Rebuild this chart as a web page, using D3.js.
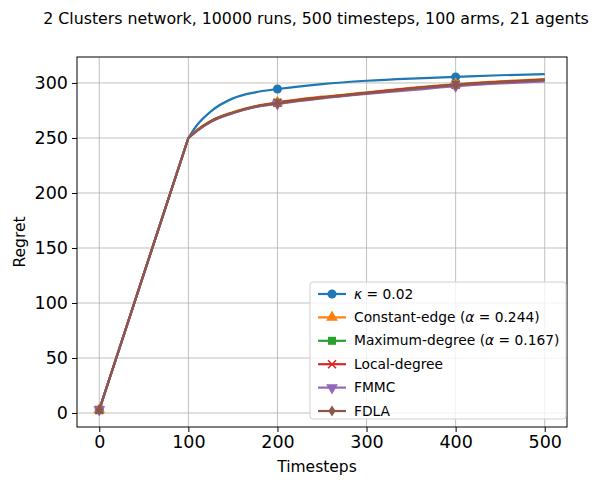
<!DOCTYPE html>
<html>
  <head>
    <meta charset="utf-8">
    <script src="https://d3js.org/d3.v7.min.js"></script>
    <style>
      body { margin: 0; background: #fff; }
      text { font-family: "DejaVu Sans", sans-serif; }
    </style>
  </head>
  <body>
    <script>
      var steps = [0, 100, 110, 125, 150, 175, 200, 250, 300, 350, 400, 450, 500];
      var markerSteps = [0, 200, 400];
      var kappa    = [3, 250, 262, 274, 286, 291.5, 294.5, 299, 302, 304, 305.5, 307, 308];
      var constEdge = [3, 250, 257.5, 265.5, 273.5, 279, 282.5, 287.5, 291.5, 295.5, 299, 301.5, 303.5];
      var maxDegree = [2.5, 250, 257, 265, 273, 278.5, 282, 287, 291, 295, 298.5, 301, 303];
      var localDeg  = [3, 250, 257, 265, 273, 278.5, 282, 287, 291, 295, 298.5, 301, 303];
      var fmmc      = [3, 250, 256.5, 264.5, 272.5, 278, 281, 286, 290, 293.5, 297, 299.5, 301.5];
      var fdla      = [3, 250, 257, 265, 273, 278.5, 281.5, 286.5, 290.5, 294.5, 298, 300.5, 302.5];

      var series = [
        { label: [["κ", true], [" = 0.02", false]], values: kappa, color: "#1f77b4", marker: "circle" },
        { label: [["Constant-edge (", false], ["α", true], [" = 0.244)", false]], values: constEdge, color: "#ff7f0e", marker: "triangle" },
        { label: [["Maximum-degree (", false], ["α", true], [" = 0.167)", false]], values: maxDegree, color: "#2ca02c", marker: "square" },
        { label: [["Local-degree", false]], values: localDeg, color: "#d62728", marker: "x" },
        { label: [["FMMC", false]], values: fmmc, color: "#9467bd", marker: "tridown" },
        { label: [["FDLA", false]], values: fdla, color: "#8c564b", marker: "diamond" }
      ];

      var W = 614, H = 485;
      var m = { left: 77, right: 567, top: 57, bottom: 427 };

      var svg = d3.select("body").append("svg").attr("width", W).attr("height", H);

      var x = d3.scaleLinear().domain([-25, 525]).range([m.left, m.right]);
      var y = d3.scaleLinear().domain([-12.7, 323.6]).range([m.bottom, m.top]);

      var xTicks = [0, 100, 200, 300, 400, 500];
      var yTicks = [0, 50, 100, 150, 200, 250, 300];

      // grid
      svg.append("g").selectAll("line").data(xTicks).enter().append("line")
        .attr("x1", d => x(d)).attr("x2", d => x(d))
        .attr("y1", m.top).attr("y2", m.bottom)
        .attr("stroke", "#b0b0b0").attr("stroke-width", 0.8);
      svg.append("g").selectAll("line").data(yTicks).enter().append("line")
        .attr("y1", d => y(d)).attr("y2", d => y(d))
        .attr("x1", m.left).attr("x2", m.right)
        .attr("stroke", "#b0b0b0").attr("stroke-width", 0.8);

      var xAxis = svg.append("g").attr("transform", "translate(0," + m.bottom + ")")
        .call(d3.axisBottom(x).tickValues(xTicks).tickSize(5).tickPadding(4));
      var yAxis = svg.append("g").attr("transform", "translate(" + m.left + ",0)")
        .call(d3.axisLeft(y).tickValues(yTicks).tickSize(5).tickPadding(4));
      [xAxis, yAxis].forEach(function (a) {
        a.select(".domain").remove();
        a.selectAll("text").attr("font-size", 17.5).attr("fill", "#000")
          .style("font-family", "DejaVu Sans");
        a.selectAll("line").attr("stroke", "#000");
      });

      svg.append("rect").attr("x", m.left).attr("y", m.top)
        .attr("width", m.right - m.left).attr("height", m.bottom - m.top)
        .attr("fill", "none").attr("stroke", "#000").attr("stroke-width", 1);

      // straight ramp up to t=100, smooth curve after it
      var curve = d3.line().x((d, i) => x(steps[i + 1])).y(d => y(d)).curve(d3.curveMonotoneX);
      function pathFor(vals) {
        return "M" + x(steps[0]) + "," + y(vals[0]) + "L" + curve(vals.slice(1)).slice(1);
      }

      function drawMarker(g, type, cx, cy, color) {
        if (type === "circle") {
          g.append("circle").attr("cx", cx).attr("cy", cy).attr("r", 4.5).attr("fill", color);
        } else if (type === "square") {
          g.append("rect").attr("x", cx - 4).attr("y", cy - 4).attr("width", 8).attr("height", 8).attr("fill", color);
        } else if (type === "triangle") {
          g.append("path").attr("d", d3.symbol(d3.symbolTriangle, 60)()).attr("transform", "translate(" + cx + "," + cy + ")").attr("fill", color);
        } else if (type === "tridown") {
          g.append("path").attr("d", d3.symbol(d3.symbolTriangle, 60)()).attr("transform", "translate(" + cx + "," + cy + ") rotate(180)").attr("fill", color);
        } else if (type === "diamond") {
          g.append("path").attr("d", "M0,-5.5L3.6,0L0,5.5L-3.6,0Z").attr("transform", "translate(" + cx + "," + cy + ")").attr("fill", color);
        } else if (type === "x") {
          g.append("path").attr("d", "M-4,-4L4,4M-4,4L4,-4").attr("transform", "translate(" + cx + "," + cy + ")")
            .attr("stroke", color).attr("stroke-width", 1.6);
        }
      }

      series.forEach(function (s) {
        var g = svg.append("g");
        g.append("path").attr("d", pathFor(s.values))
          .attr("fill", "none").attr("stroke", s.color).attr("stroke-width", 2.2)
          .attr("stroke-linejoin", "round");
        markerSteps.forEach(function (t) {
          var i = steps.indexOf(t);
          drawMarker(g, s.marker, x(t), y(s.values[i]), s.color);
        });
      });

      // legend
      var lg = svg.append("g");
      lg.append("rect").attr("x", 310).attr("y", 282).attr("width", 256).attr("height", 137)
        .attr("rx", 3).attr("fill", "#fff").attr("fill-opacity", 0.8)
        .attr("stroke", "#d0d0d0");
      series.forEach(function (s, i) {
        var yy = 294 + i * 23.4;
        lg.append("line").attr("x1", 318).attr("x2", 346).attr("y1", yy).attr("y2", yy)
          .attr("stroke", s.color).attr("stroke-width", 2.2);
        drawMarker(lg, s.marker, 332, yy, s.color);
        var t = lg.append("text").attr("x", 354).attr("y", yy + 4.5).attr("font-size", 13.8);
        s.label.forEach(function (p) {
          t.append("tspan").attr("font-style", p[1] ? "italic" : "normal").text(p[0]);
        });
      });

      svg.append("text").attr("x", 316).attr("y", 24).attr("text-anchor", "middle")
        .attr("font-size", 15.8).text("2 Clusters network, 10000 runs, 500 timesteps, 100 arms, 21 agents");
      svg.append("text").attr("x", (m.left + m.right) / 2 - 5).attr("y", 472).attr("text-anchor", "middle")
        .attr("font-size", 15.5).text("Timesteps");
      svg.append("text").attr("transform", "translate(25," + ((m.top + m.bottom) / 2) + ") rotate(-90)")
        .attr("text-anchor", "middle").attr("font-size", 15.5).text("Regret");
    </script>
  </body>
</html>
